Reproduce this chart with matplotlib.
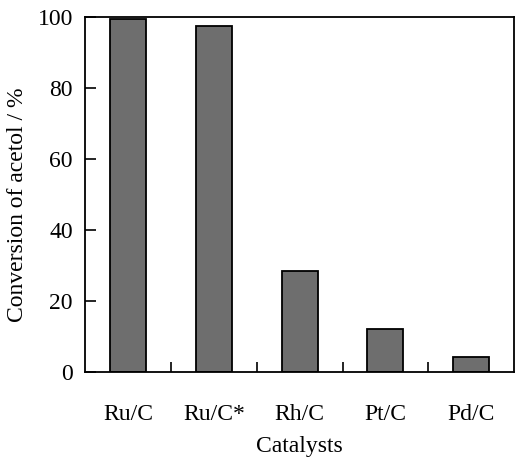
import matplotlib
matplotlib.use('Agg')
import matplotlib.pyplot as plt
import numpy as np

catalysts = ['Ru/C', 'Ru/C*', 'Rh/C', 'Pt/C', 'Pd/C']
conversion = [99.5, 97.5, 28.3, 12.2, 4.3]
y_ticks = [0, 20, 40, 60, 80, 100]

plt.rcParams['font.family'] = ['Liberation Serif', 'DejaVu Serif']

fig = plt.figure(figsize=(5.15, 4.58), dpi=100)
ax = fig.add_axes([0.166, 0.188, 0.832, 0.775])

x = np.arange(len(catalysts))
ax.bar(x, conversion, width=0.42, color='#6e6e6e', edgecolor='black', linewidth=1.3)

ax.set_xlim(-0.5, len(catalysts) - 0.5)
ax.set_ylim(0, 100)
ax.set_yticks(y_ticks)
ax.set_xticks(x)
ax.set_xticklabels(catalysts)
ax.set_xticks(x[:-1] + 0.5, minor=True)

ax.tick_params(axis='x', which='major', length=0, pad=23, labelsize=17)
ax.tick_params(axis='x', which='minor', direction='in', length=7, width=1.2)
ax.tick_params(axis='y', direction='in', length=8, width=1.2, pad=9, labelsize=17)

for s in ax.spines.values():
    s.set_linewidth(1.3)

ax.set_xlabel('Catalysts', fontsize=17, labelpad=8)
ax.set_ylabel('Conversion of acetol / %', fontsize=17)
ax.yaxis.set_label_coords(-0.135, 0.47)

fig.savefig('out.png', dpi=100)
